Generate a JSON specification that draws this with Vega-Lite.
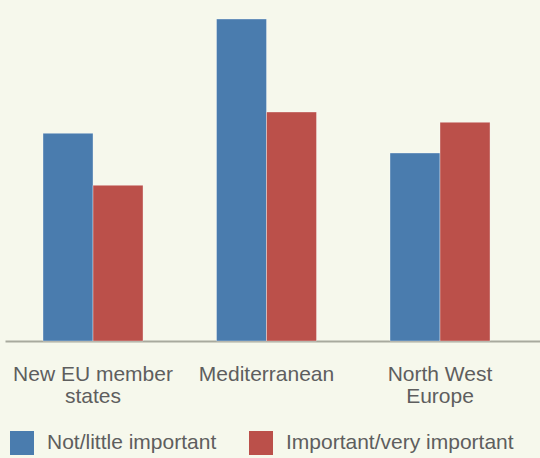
{
  "$schema": "https://vega.github.io/schema/vega-lite/v6.json",
  "width": 535,
  "height": 341,
  "autosize": {"type": "none"},
  "padding": {"left": 5, "top": 0, "right": 0, "bottom": 117},
  "background": "#f6f8ec",
  "config": {
    "view": {"stroke": null},
    "font": "Liberation Sans, Arial, sans-serif"
  },
  "data": {
    "values": [
      {"region": "New EU member states", "importance": "Not/little important", "value": 207.7},
      {"region": "New EU member states", "importance": "Important/very important", "value": 155.7},
      {"region": "Mediterranean", "importance": "Not/little important", "value": 322},
      {"region": "Mediterranean", "importance": "Important/very important", "value": 229},
      {"region": "North West Europe", "importance": "Not/little important", "value": 188},
      {"region": "North West Europe", "importance": "Important/very important", "value": 218.7}
    ]
  },
  "mark": {"type": "bar", "stroke": "#ffffff", "strokeOpacity": 0.35, "strokeWidth": 1},
  "encoding": {
    "x": {
      "field": "region",
      "type": "nominal",
      "sort": ["New EU member states", "Mediterranean", "North West Europe"],
      "scale": {"paddingInner": 0.4236, "paddingOuter": 0.2536, "align": 0.432},
      "axis": {
        "title": null,
        "labelAngle": 0,
        "ticks": false,
        "domain": true,
        "domainColor": "#a8aa9e",
        "domainWidth": 2,
        "labelFontSize": 21,
        "labelColor": "#5e5e5e",
        "labelPadding": 22,
        "labelLineHeight": 22,
        "labelBaseline": "top",
        "labelLimit": 0,
        "labelExpr": "datum.value == 'New EU member states' ? ['New EU member', 'states'] : datum.value == 'North West Europe' ? ['North West', 'Europe'] : datum.value"
      }
    },
    "xOffset": {
      "field": "importance",
      "type": "nominal",
      "sort": ["Not/little important", "Important/very important"],
      "scale": {"paddingInner": 0, "paddingOuter": 0}
    },
    "y": {
      "field": "value",
      "type": "quantitative",
      "scale": {"domain": [0, 341]},
      "axis": null
    },
    "color": {
      "field": "importance",
      "type": "nominal",
      "sort": ["Not/little important", "Important/very important"],
      "scale": {"domain": ["Not/little important", "Important/very important"], "range": ["#4a7cae", "#bb504a"]},
      "legend": {
        "orient": "none",
        "legendX": 5,
        "legendY": 431,
        "direction": "horizontal",
        "title": null,
        "symbolType": "square",
        "symbolSize": 576,
        "symbolStrokeWidth": 0,
        "labelFontSize": 21,
        "labelColor": "#5e5e5e",
        "labelOffset": 13,
        "labelLimit": 0,
        "columnPadding": 32,
        "padding": 0
      }
    }
  }
}
